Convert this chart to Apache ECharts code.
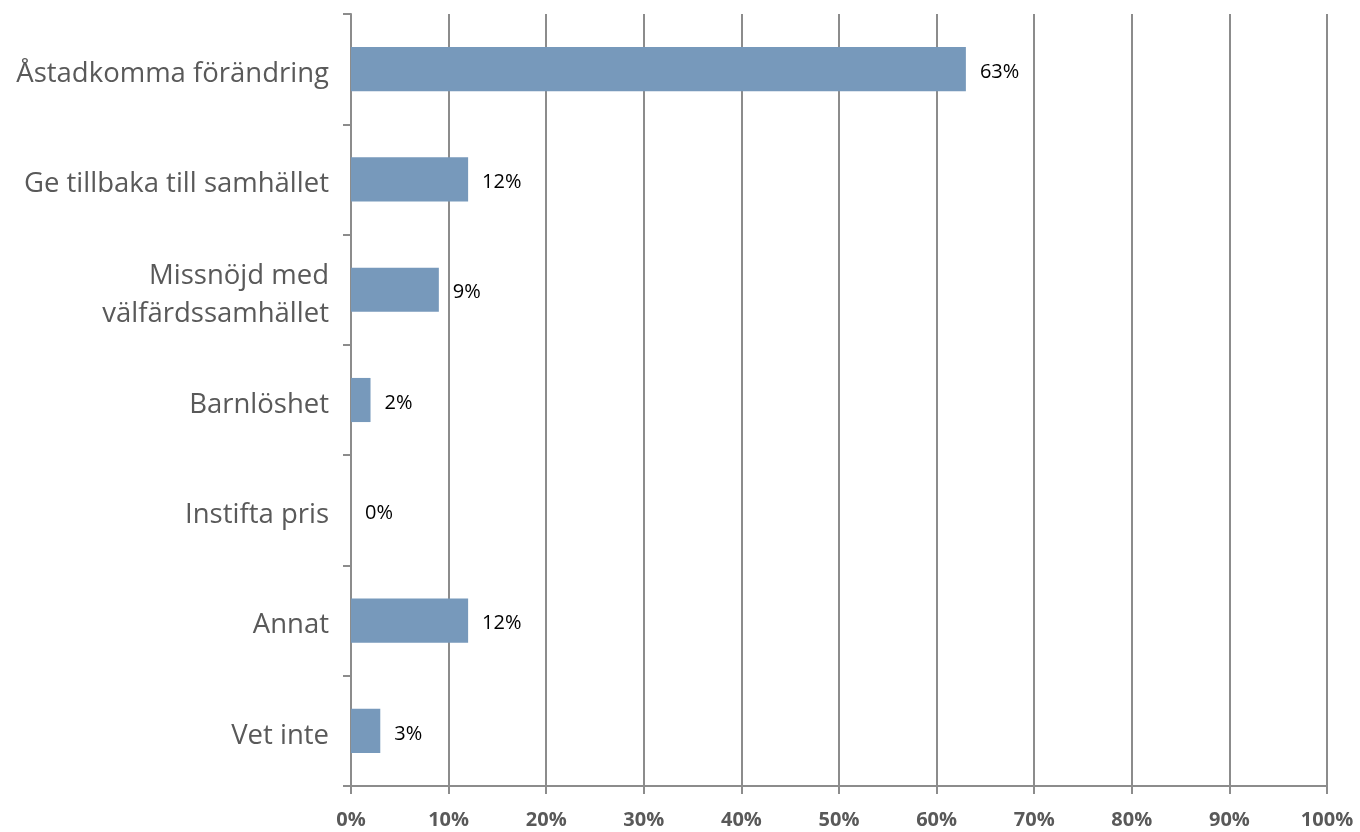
<!DOCTYPE html>
<html><head><meta charset="utf-8">
<script src="https://cdn.jsdelivr.net/npm/echarts@6/dist/echarts.min.js"></script>
<style>html,body{margin:0;padding:0;background:#fff}#c{width:1360px;height:832px}</style>
</head><body><div id="c"></div>
<script>
const categories = ["Åstadkomma förändring","Ge tillbaka till samhället","Missnöjd med\nvälfärdssamhället","Barnlöshet","Instifta pris","Annat","Vet inte"];
const values = [63,12,9,2,0,12,3];
const tickLabels = ["0%","10%","20%","30%","40%","50%","60%","70%","80%","90%","100%"];
const chart = echarts.init(document.getElementById('c'));
chart.setOption({
  animation:false,
  grid:{left:351,right:33,top:14,bottom:46,containLabel:false},
  xAxis:{type:'value',min:0,max:100,interval:10,
    axisLine:{show:true,lineStyle:{color:'#8c8c8c',width:2}},
    axisTick:{show:true,length:8,lineStyle:{color:'#8c8c8c',width:2}},
    splitLine:{show:true,lineStyle:{color:'#8c8c8c',width:2}},
    axisLabel:{formatter:v=>tickLabels[v/10],fontFamily:'Open Sans',fontWeight:'bold',fontSize:20,color:'#595959',margin:24}},
  yAxis:{type:'category',data:categories,inverse:true,
    axisLine:{show:true,lineStyle:{color:'#8c8c8c',width:2}},
    axisTick:{show:true,length:8,lineStyle:{color:'#8c8c8c',width:2}},
    axisLabel:{fontFamily:'Open Sans',fontSize:27.5,color:'#595959',margin:22,verticalAlign:'middle',
      formatter:v=>'{a|'+v.split('\n').join('}\n{a|')+'}',
      rich:{a:{fontFamily:'Open Sans',fontSize:27.5,color:'#595959',lineHeight:38,padding:[10,0,0,0]}}}},
  series:[{type:'bar',data:values,barWidth:'40%',itemStyle:{color:'#7799bb'},
    label:{show:true,position:'right',distance:14,offset:[0,3],formatter:p=>p.value+'%',fontFamily:'Open Sans',fontSize:20,color:'#000'}}]
});
</script></body></html>
